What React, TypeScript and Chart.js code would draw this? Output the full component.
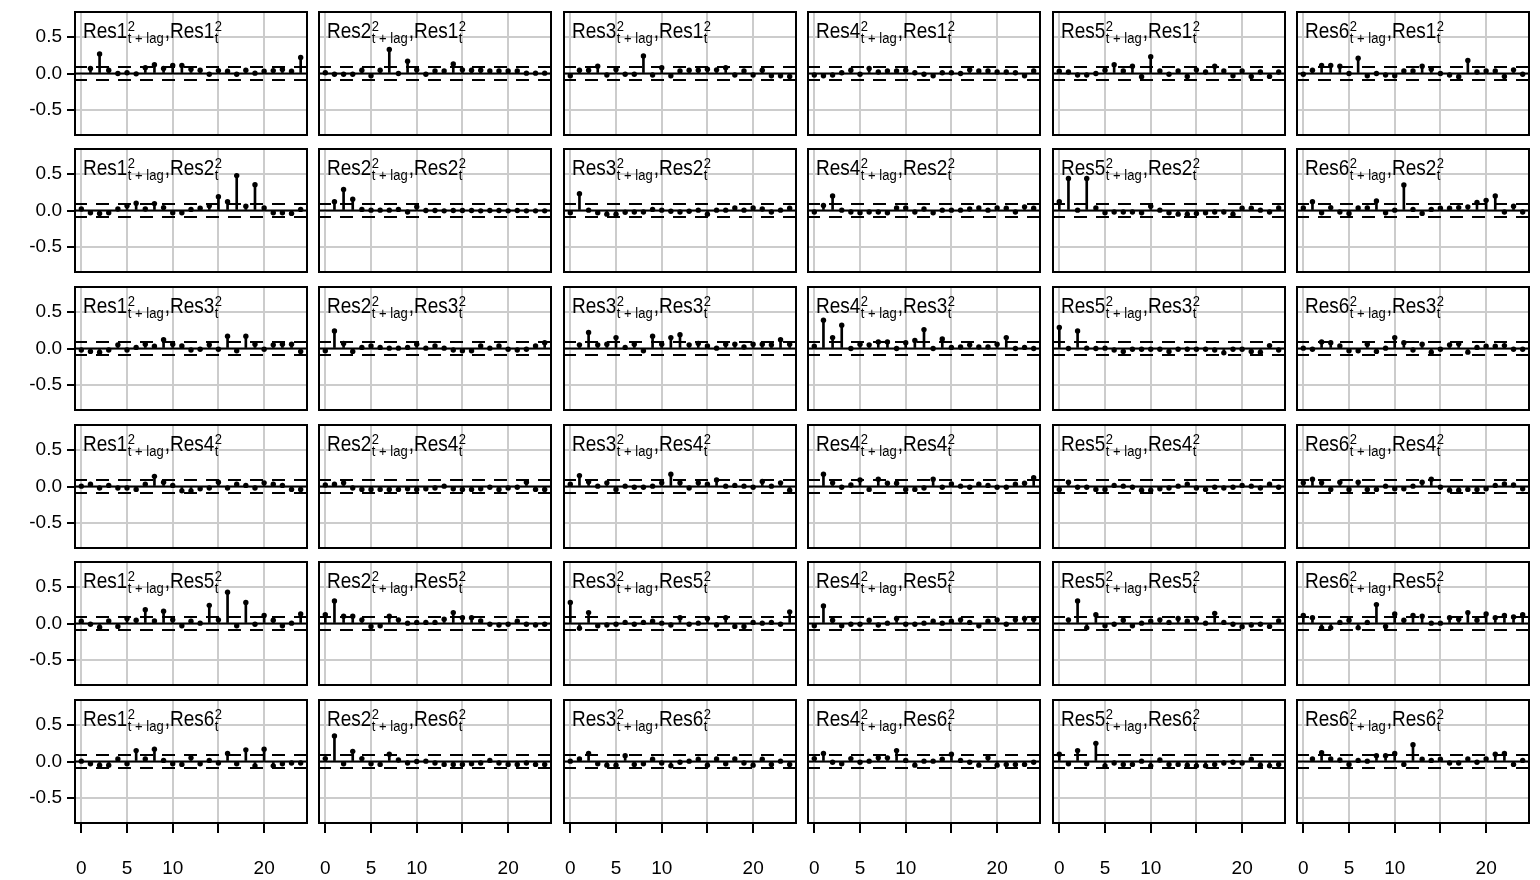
import React, { useEffect, useRef } from "react";
import { Chart, registerables } from "chart.js";

Chart.register(...registerables);

// ---------------- data ----------------
const lags = [0, 1, 2, 3, 4, 5, 6, 7, 8, 9, 10, 11, 12, 13, 14, 15, 16, 17, 18, 19, 20, 21, 22, 23, 24];
const seriesNames = ["Res1", "Res2", "Res3", "Res4", "Res5", "Res6"];
const xTickValues = [0, 5, 10, 15, 20];
const xTickLabels = ["0", "5", "10", "", "20"];
const yTickValues = [-0.5, 0, 0.5];
const yTickLabels = ["-0.5", "0.0", "0.5"];
const ciBound = 0.09;

// row: Res1^2_t
const res1Lag_res1 = [null, 0.07, 0.27, 0.045, 0.0, 0.01, -0.005, 0.08, 0.12, 0.07, 0.11, 0.11, 0.06, 0.045, -0.01, 0.04, 0.03, -0.01, 0.045, 0.005, 0.03, 0.04, 0.055, 0.03, 0.22];
const res2Lag_res1 = [0.01, -0.01, -0.01, -0.01, 0.045, -0.03, 0.045, 0.33, 0.0, 0.17, 0.05, -0.01, 0.035, 0.035, 0.13, 0.05, 0.045, 0.045, 0.035, 0.035, 0.035, 0.035, 0.005, 0.005, 0.005];
const res3Lag_res1 = [-0.03, 0.045, 0.045, 0.1, -0.02, 0.055, -0.01, -0.01, 0.24, -0.02, 0.08, -0.03, 0.035, 0.045, 0.045, 0.06, 0.05, 0.08, -0.02, 0.035, -0.02, 0.045, -0.03, -0.03, -0.04];
const res4Lag_res1 = [-0.02, -0.03, -0.02, 0.01, 0.045, -0.01, 0.07, 0.02, 0.035, 0.035, 0.045, 0.01, -0.01, -0.03, 0.01, 0.01, 0.0, 0.05, 0.035, 0.035, 0.02, 0.02, 0.01, -0.03, 0.035];
const res5Lag_res1 = [0.03, 0.02, -0.02, -0.02, 0.0, 0.045, 0.12, 0.035, 0.1, -0.045, 0.23, 0.035, -0.01, 0.035, -0.04, 0.05, 0.02, 0.1, 0.035, -0.03, 0.035, -0.04, 0.02, -0.04, 0.02];
const res6Lag_res1 = [-0.01, 0.045, 0.11, 0.11, 0.1, 0.0, 0.21, -0.03, 0.0, -0.02, -0.03, 0.035, 0.035, 0.1, 0.06, 0.0, -0.02, -0.045, 0.18, 0.02, 0.035, 0.035, -0.04, 0.05, -0.01];

// row: Res2^2_t
const res1Lag_res2 = [0.02, -0.03, -0.04, -0.03, 0.02, 0.065, 0.1, 0.02, 0.095, 0.04, -0.03, -0.03, 0.015, 0.03, 0.065, 0.19, 0.12, 0.48, 0.06, 0.355, 0.035, -0.03, -0.03, -0.04, 0.015];
const res2Lag_res2 = [null, 0.12, 0.29, 0.155, 0.015, 0.005, 0.005, 0.005, 0.015, -0.02, 0.05, 0.0, 0.0, -0.005, 0.0, 0.0, 0.0, -0.005, 0.0, 0.0, -0.005, 0.0, -0.005, -0.005, -0.005];
const res3Lag_res2 = [-0.03, 0.23, 0.005, -0.03, -0.05, -0.05, -0.025, -0.02, -0.02, 0.015, 0.005, -0.01, -0.02, -0.01, 0.005, -0.05, 0.005, 0.005, 0.035, 0.005, 0.035, 0.02, -0.02, 0.005, 0.03];
const res4Lag_res2 = [-0.02, 0.07, 0.2, 0.005, -0.02, -0.03, -0.02, -0.02, -0.03, 0.035, 0.035, -0.02, 0.02, -0.03, 0.005, 0.005, 0.005, 0.02, 0.035, 0.005, 0.035, 0.03, -0.02, 0.05, 0.03];
const res5Lag_res2 = [0.12, 0.44, 0.005, 0.44, 0.035, -0.03, -0.02, -0.02, -0.02, -0.03, 0.06, 0.005, -0.03, -0.05, -0.05, -0.04, -0.03, -0.02, -0.02, -0.05, 0.03, 0.03, 0.005, -0.02, 0.035];
const res6Lag_res2 = [0.035, 0.12, -0.03, 0.04, -0.02, -0.04, 0.035, 0.035, 0.13, -0.03, 0.005, 0.35, 0.015, -0.04, 0.015, 0.03, 0.03, 0.04, 0.05, 0.11, 0.14, 0.2, -0.02, 0.06, -0.02];

// row: Res3^2_t
const res1Lag_res3 = [-0.02, -0.04, -0.05, -0.02, 0.05, -0.02, 0.015, 0.06, 0.03, 0.12, 0.06, 0.035, -0.02, -0.01, 0.05, -0.01, 0.17, -0.03, 0.17, 0.06, -0.01, 0.05, 0.06, 0.06, -0.04];
const res2Lag_res3 = [-0.03, 0.24, 0.07, -0.04, 0.015, 0.035, 0.015, 0.005, 0.005, 0.015, 0.06, 0.005, 0.035, 0.005, -0.02, -0.03, -0.03, 0.035, 0.005, 0.035, -0.01, -0.02, -0.01, 0.035, 0.08];
const res3Lag_res3 = [null, 0.05, 0.22, 0.05, 0.06, 0.15, 0.015, 0.06, -0.03, 0.17, 0.06, 0.15, 0.19, 0.05, 0.07, 0.035, 0.005, 0.06, 0.06, 0.02, 0.06, 0.06, 0.05, 0.12, 0.06];
const res4Lag_res3 = [0.03, 0.39, 0.15, 0.32, 0.0, 0.06, 0.05, 0.09, 0.09, 0.0, 0.08, 0.11, 0.26, 0.0, 0.13, 0.015, 0.02, 0.05, 0.02, 0.02, 0.06, 0.15, 0.0, 0.015, 0.0];
const res5Lag_res3 = [0.29, 0.0, 0.24, 0.005, 0.0, 0.005, -0.02, -0.04, -0.01, -0.01, -0.01, -0.01, -0.04, -0.01, -0.01, -0.01, -0.01, -0.02, -0.06, -0.01, -0.01, -0.04, -0.05, 0.04, -0.02];
const res6Lag_res3 = [0.005, -0.01, 0.09, 0.08, 0.035, -0.03, -0.03, 0.06, -0.04, 0.005, 0.15, 0.08, -0.02, 0.06, -0.05, -0.01, 0.05, 0.065, -0.05, 0.015, 0.03, 0.03, 0.04, -0.01, -0.01];

// row: Res4^2_t
const res1Lag_res4 = [0.005, 0.03, -0.02, 0.015, -0.02, -0.02, -0.04, 0.03, 0.14, 0.06, 0.015, -0.06, -0.06, -0.03, -0.02, 0.06, -0.02, 0.03, 0.015, -0.02, 0.05, 0.03, 0.015, -0.04, -0.04];
const res2Lag_res4 = [0.02, 0.03, 0.05, -0.02, -0.04, -0.04, -0.04, -0.04, -0.04, -0.03, -0.04, -0.03, -0.02, 0.005, -0.03, -0.04, -0.04, -0.03, -0.01, -0.04, -0.02, -0.01, 0.06, -0.04, -0.04];
const res3Lag_res4 = [0.03, 0.15, 0.065, 0.005, 0.05, -0.04, 0.005, -0.01, -0.01, 0.005, 0.05, 0.17, 0.05, -0.02, 0.05, 0.03, 0.09, 0.005, 0.015, 0.005, -0.01, 0.07, 0.005, 0.05, -0.05];
const res4Lag_res4 = [null, 0.17, 0.05, -0.01, 0.02, 0.09, -0.04, 0.1, 0.045, 0.045, -0.04, -0.04, -0.02, 0.1, -0.01, 0.035, 0.005, -0.01, 0.03, 0.015, -0.01, -0.01, 0.03, 0.045, 0.12];
const res5Lag_res4 = [-0.04, 0.06, -0.01, -0.01, -0.04, -0.04, 0.015, 0.005, -0.01, -0.05, -0.05, -0.03, -0.02, 0.005, 0.03, -0.02, -0.04, -0.01, -0.02, -0.01, 0.015, 0.005, -0.02, 0.03, -0.01];
const res6Lag_res4 = [0.05, 0.1, 0.05, -0.04, 0.06, -0.04, 0.06, -0.04, -0.04, 0.005, -0.03, -0.03, 0.005, 0.06, 0.1, -0.01, -0.05, -0.05, -0.04, -0.04, -0.03, 0.015, 0.035, 0.02, -0.03];

// row: Res5^2_t
const res1Lag_res5 = [0.03, -0.01, -0.05, 0.035, -0.04, 0.07, 0.045, 0.19, 0.035, 0.17, 0.05, -0.03, 0.03, 0.005, 0.25, 0.05, 0.43, -0.03, 0.29, -0.01, 0.11, 0.045, -0.03, 0.005, 0.13];
const res2Lag_res5 = [0.12, 0.31, 0.1, 0.1, 0.05, -0.04, -0.03, 0.1, 0.05, 0.005, 0.015, 0.015, 0.015, 0.06, 0.15, 0.08, 0.08, 0.035, -0.01, -0.02, -0.01, 0.03, -0.01, -0.02, -0.01];
const res3Lag_res5 = [0.29, -0.065, 0.15, -0.03, -0.02, -0.01, 0.015, -0.01, 0.015, 0.03, 0.005, -0.02, 0.08, -0.01, 0.005, 0.07, -0.02, 0.08, -0.04, -0.04, 0.015, 0.005, 0.015, -0.01, 0.16];
const res4Lag_res5 = [-0.03, 0.24, 0.045, -0.03, -0.01, -0.01, 0.045, -0.02, 0.005, 0.07, -0.01, -0.01, 0.005, 0.03, 0.005, 0.03, 0.05, 0.015, -0.03, 0.03, 0.05, -0.01, 0.05, 0.07, 0.06];
const res5Lag_res5 = [null, 0.05, 0.31, -0.06, 0.12, -0.03, -0.01, 0.045, -0.03, 0.005, 0.03, 0.05, 0.015, 0.07, 0.03, 0.07, 0.005, 0.14, 0.015, -0.01, -0.045, -0.02, -0.01, -0.04, 0.035];
const res6Lag_res5 = [0.11, 0.08, -0.06, -0.06, 0.015, 0.045, -0.06, 0.015, 0.26, -0.04, 0.13, 0.045, 0.11, 0.1, 0.005, 0.005, 0.08, 0.06, 0.15, 0.045, 0.13, 0.08, 0.11, 0.09, 0.12];

// row: Res6^2_t
const res1Lag_res6 = [0.005, -0.03, -0.05, -0.05, 0.035, -0.03, 0.15, 0.035, 0.17, 0.015, -0.03, -0.04, 0.05, -0.03, 0.015, -0.02, 0.11, -0.03, 0.16, -0.06, 0.17, -0.06, -0.03, -0.02, -0.02];
const res2Lag_res6 = [0.04, 0.35, -0.03, 0.14, 0.04, -0.03, -0.04, 0.1, 0.02, -0.02, 0.0, 0.005, -0.02, -0.04, -0.04, -0.04, -0.03, -0.02, 0.015, -0.02, -0.04, -0.04, -0.02, -0.04, -0.04];
const res3Lag_res6 = [0.005, 0.035, 0.11, -0.03, -0.05, -0.05, 0.08, -0.04, -0.03, 0.03, -0.02, -0.06, -0.01, 0.005, 0.03, -0.05, 0.035, -0.03, 0.035, -0.02, -0.05, 0.03, -0.04, 0.005, -0.04];
const res4Lag_res6 = [0.04, 0.11, -0.01, -0.03, 0.04, -0.01, 0.005, 0.05, 0.05, 0.15, 0.015, -0.05, 0.005, 0.005, 0.03, 0.1, 0.015, -0.01, -0.05, 0.05, -0.05, -0.04, -0.04, -0.04, -0.01];
const res5Lag_res6 = [0.1, -0.03, 0.15, -0.03, 0.25, -0.06, -0.02, -0.04, -0.04, 0.005, -0.06, 0.02, -0.04, -0.04, -0.05, -0.06, -0.06, -0.04, -0.02, -0.01, -0.02, 0.03, -0.05, -0.06, -0.04];
const res6Lag_res6 = [null, 0.035, 0.12, 0.035, 0.02, -0.04, 0.015, 0.005, 0.08, 0.08, 0.11, -0.04, 0.23, 0.03, 0.015, 0.03, -0.02, -0.02, 0.035, -0.01, 0.035, 0.1, 0.11, -0.04, 0.015];

const ccfGrid: (number | null)[][][] = [
  [res1Lag_res1, res2Lag_res1, res3Lag_res1, res4Lag_res1, res5Lag_res1, res6Lag_res1],
  [res1Lag_res2, res2Lag_res2, res3Lag_res2, res4Lag_res2, res5Lag_res2, res6Lag_res2],
  [res1Lag_res3, res2Lag_res3, res3Lag_res3, res4Lag_res3, res5Lag_res3, res6Lag_res3],
  [res1Lag_res4, res2Lag_res4, res3Lag_res4, res4Lag_res4, res5Lag_res4, res6Lag_res4],
  [res1Lag_res5, res2Lag_res5, res3Lag_res5, res4Lag_res5, res5Lag_res5, res6Lag_res5],
  [res1Lag_res6, res2Lag_res6, res3Lag_res6, res4Lag_res6, res5Lag_res6, res6Lag_res6],
];

// ---------------- layout / style ----------------
const FONT = '"Liberation Sans", Arial, Helvetica, sans-serif';
const COL_LEFT = [74, 318, 563, 807, 1052, 1296];
const ROW_TOP = [11, 148, 286, 424, 561, 699];
const PANEL_W = 234;
const PANEL_H = 125;
const Y_AXIS_W = 74;
const X_AXIS_H = 56;
const GRID_COLOR = "#cccccc";
const TEXT_STRETCH = 1.15;

const zeroPadding = (s: any) => {
  s.paddingTop = 0;
  s.paddingBottom = 0;
  s.paddingLeft = 0;
  s.paddingRight = 0;
};

const panelDecor = {
  id: "panelDecor",
  beforeDatasetsDraw(chart: any) {
    const { ctx, chartArea: a, scales } = chart;
    const y = scales.y;
    ctx.save();
    ctx.beginPath();
    ctx.rect(a.left, a.top, a.width, a.height);
    ctx.clip();
    ctx.strokeStyle = "#000";
    ctx.lineWidth = 2;
    const y0 = y.getPixelForValue(0);
    ctx.beginPath();
    ctx.moveTo(a.left, y0);
    ctx.lineTo(a.right, y0);
    ctx.stroke();
    ctx.setLineDash([13, 9]);
    for (const b of [ciBound, -ciBound]) {
      const yy = y.getPixelForValue(b);
      ctx.beginPath();
      ctx.moveTo(a.left, yy);
      ctx.lineTo(a.right, yy);
      ctx.stroke();
    }
    ctx.restore();
  },
  afterDraw(chart: any, _args: any, opts: any) {
    const { ctx, chartArea: a } = chart;
    ctx.save();
    ctx.strokeStyle = "#000";
    ctx.lineWidth = 2;
    ctx.strokeRect(a.left + 1, a.top + 1, a.width - 2, a.height - 2);

    const mainFont = `19px ${FONT}`;
    const smallFont = `13px ${FONT}`;
    const drawText = (t: string, x: number, yb: number, font: string) => {
      ctx.save();
      ctx.font = font;
      ctx.translate(x, yb);
      ctx.scale(1, TEXT_STRETCH);
      ctx.fillText(t, 0, 0);
      ctx.restore();
    };
    const measure = (t: string, font: string) => {
      ctx.font = font;
      return ctx.measureText(t).width;
    };
    ctx.fillStyle = "#000";
    ctx.textAlign = "left";
    ctx.textBaseline = "alphabetic";
    const mainY = a.top + 27;
    const supY = a.top + 19.5;
    const subY = a.top + 31.5;
    let x = a.left + 9;
    const pieces: [string, string][] = [
      [opts.lagName, "t + lag"],
      [opts.baseName, "t"],
    ];
    pieces.forEach(([name, sub], i) => {
      if (i > 0) {
        drawText(",", x, mainY, mainFont);
        x += measure(",", mainFont);
      }
      drawText(name, x, mainY, mainFont);
      x += measure(name, mainFont) + 0.5;
      drawText("2", x, supY, smallFont);
      drawText(sub, x, subY, smallFont);
      x += Math.max(measure("2", smallFont), measure(sub, smallFont)) + 1;
    });
    ctx.restore();
  },
};

function Panel({ row, col }: { row: number; col: number }) {
  const ref = useRef<HTMLCanvasElement | null>(null);
  const isLeft = col === 0;
  const isBottom = row === 5;
  const w = PANEL_W + (isLeft ? Y_AXIS_W : 0);
  const h = PANEL_H + (isBottom ? X_AXIS_H : 0);

  useEffect(() => {
    if (!ref.current) return;
    const values = ccfGrid[row][col];
    const pts = lags
      .map((l, k) => ({ x: l, y: values[k] }))
      .filter((p) => p.y !== null) as { x: number; y: number }[];

    const chart = new Chart(ref.current, {
      type: "bar",
      data: {
        datasets: [
          {
            type: "line",
            data: pts,
            showLine: false,
            pointRadius: 2.7,
            pointHoverRadius: 2.7,
            pointBackgroundColor: "#000",
            pointBorderWidth: 0,
            borderColor: "#000",
          } as any,
          {
            type: "bar",
            data: pts,
            backgroundColor: "#000",
            barThickness: 2,
            borderWidth: 0,
            grouped: false,
          } as any,
        ],
      },
      options: {
        responsive: false,
        animation: false,
        devicePixelRatio: 1,
        events: [],
        layout: { padding: 0, autoPadding: false } as any,
        plugins: {
          legend: { display: false },
          tooltip: { enabled: false },
          panelDecor: { lagName: seriesNames[col], baseName: seriesNames[row] },
        } as any,
        scales: {
          x: {
            type: "linear",
            min: -0.8,
            max: 24.8,
            offset: false,
            afterBuildTicks: (s: any) => {
              s.ticks = xTickValues.map((v) => ({ value: v }));
            },
            afterFit: (s: any) => {
              s.height = isBottom ? X_AXIS_H : 0;
              zeroPadding(s);
            },
            grid: {
              color: GRID_COLOR,
              lineWidth: 2,
              offset: false,
              drawTicks: isBottom,
              tickLength: 9,
              tickColor: "#000",
              tickWidth: 2,
            },
            border: { display: false },
            ticks: {
              display: isBottom,
              autoSkip: false,
              maxRotation: 0,
              minRotation: 0,
              padding: 24,
              color: "#000",
              font: { family: FONT, size: 19 },
              callback: (_v: any, i: number) => xTickLabels[i],
            },
          },
          y: {
            type: "linear",
            min: -0.86,
            max: 0.86,
            afterBuildTicks: (s: any) => {
              s.ticks = yTickValues.map((v) => ({ value: v }));
            },
            afterFit: (s: any) => {
              s.width = isLeft ? Y_AXIS_W : 0;
              zeroPadding(s);
            },
            grid: {
              color: GRID_COLOR,
              lineWidth: 2,
              drawTicks: isLeft,
              tickLength: 7,
              tickColor: "#000",
              tickWidth: 2,
            },
            border: { display: false },
            ticks: {
              display: isLeft,
              autoSkip: false,
              padding: 5,
              color: "#000",
              font: { family: FONT, size: 19 },
              callback: (_v: any, i: number) => yTickLabels[i],
            },
          },
        } as any,
      },
      plugins: [panelDecor as any],
    });
    return () => chart.destroy();
  }, [row, col]);

  return (
    <canvas
      ref={ref}
      width={w}
      height={h}
      style={{
        position: "absolute",
        left: COL_LEFT[col] - (isLeft ? Y_AXIS_W : 0),
        top: ROW_TOP[row],
        width: w,
        height: h,
      }}
    />
  );
}

export default function App() {
  const panels: React.ReactElement[] = [];
  for (let r = 0; r < 6; r++) {
    for (let c = 0; c < 6; c++) {
      panels.push(<Panel key={`${r}-${c}`} row={r} col={c} />);
    }
  }
  return (
    <div
      style={{
        position: "absolute",
        left: 0,
        top: 0,
        width: 1540,
        height: 880,
        background: "#ffffff",
        overflow: "hidden",
      }}
    >
      {panels}
    </div>
  );
}
